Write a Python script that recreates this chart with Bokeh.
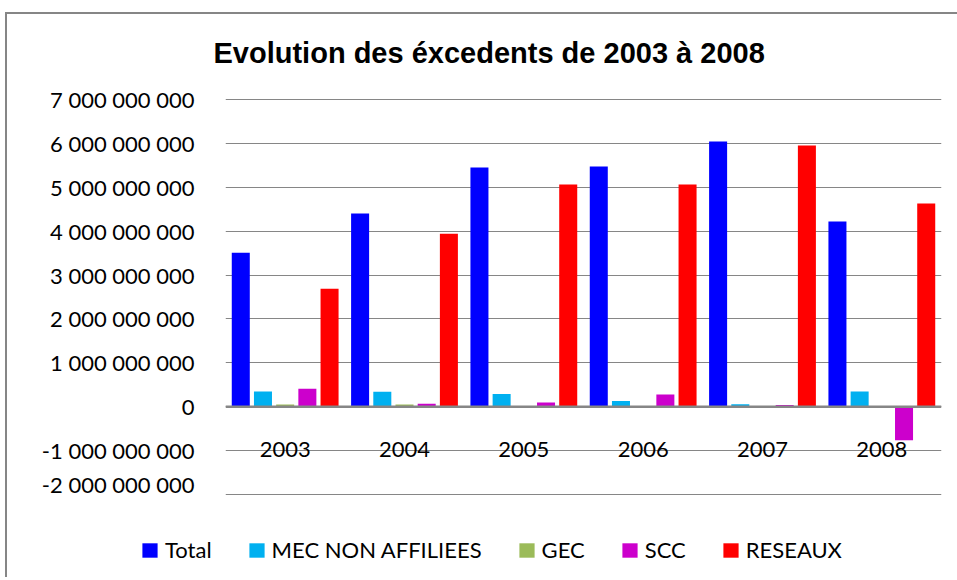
from bokeh.plotting import figure
from bokeh.layouts import column
from bokeh.models import (FactorRange, Range1d, FixedTicker, CustomJSTickFormatter,
                          Span, Legend, LegendItem, ColumnDataSource)
from bokeh.transform import dodge
from bokeh.core.properties import value
from bokeh.embed import file_html
from bokeh.resources import INLINE

years = ["2003", "2004", "2005", "2006", "2007", "2008"]
series_names = ["Total", "MEC NON AFFILIEES", "GEC", "SCC", "RESEAUX"]
total = [3.51e9, 4.40e9, 5.45e9, 5.47e9, 6.04e9, 4.22e9]
mec = [0.35e9, 0.34e9, 0.29e9, 0.13e9, 0.06e9, 0.35e9]
gec = [0.05e9, 0.05e9, 0.01e9, 0.0, 0.0, 0.01e9]
scc = [0.41e9, 0.07e9, 0.10e9, 0.28e9, 0.04e9, -0.76e9]
reseaux = [2.69e9, 3.94e9, 5.06e9, 5.06e9, 5.95e9, 4.63e9]
y_ticks = [-2e9, -1e9, 0, 1e9, 2e9, 3e9, 4e9, 5e9, 6e9, 7e9]

colors = ["#0000FF", "#00B0F0", "#9BBB59", "#CC00CC", "#FF0000"]
keys = ["total", "mec", "gec", "scc", "reseaux"]

src = ColumnDataSource(dict(year=years, total=total, mec=mec, gec=gec, scc=scc, reseaux=reseaux))

p = figure(x_range=FactorRange(*years, range_padding=0), y_range=Range1d(-2.02e9, 7.02e9),
           width=957, height=497, output_backend="svg", toolbar_location=None,
           min_border_left=225, min_border_right=16, min_border_top=98, min_border_bottom=2)
p.outline_line_color = None
p.border_fill_color = None
p.background_fill_color = None
p.frame_align = False

p.title.text = "Evolution des éxcedents de 2003 à 2008"
p.title.text_font = "Liberation Sans"
p.title.text_font_size = "29px"
p.title.text_font_style = "bold"
p.title.text_color = "#000000"
p.title.align = "left"
p.title.offset = -12
p.title.standoff = 60

step = 0.186
offsets = [-2 * step, -step, 0, step, 2 * step]
for k, c, off in zip(keys, colors, offsets):
    p.vbar(x=dodge("year", off, range=p.x_range), top=k, bottom=0, width=0.151,
           source=src, fill_color=c, line_color=None)

p.ygrid.grid_line_color = "#868686"
p.ygrid.grid_line_width = 1
p.xgrid.grid_line_color = None
p.yaxis.ticker = FixedTicker(ticks=y_ticks)
p.yaxis.formatter = CustomJSTickFormatter(code="""
return Math.round(tick).toString().replace(/\\B(?=(\\d{3})+(?!\\d))/g, " ");
""")
p.yaxis.axis_line_color = None
p.yaxis.major_tick_line_color = None
p.yaxis.minor_tick_line_color = None
p.yaxis.major_label_standoff = 25
p.yaxis.major_label_text_font = "Lato"
p.yaxis.major_label_text_font_size = "22px"
p.yaxis.major_label_text_color = "#000000"

p.xaxis.visible = False
p.add_layout(Span(location=0, dimension="width", line_color="#868686", line_width=2.5))
p.text(x="year", y=0, text="year", source=src, y_offset=43,
       text_font=value("Lato"), text_font_size="22px", text_color="#000000",
       text_align="center", text_baseline="middle")

# legend strip (swatches are zero-height bars, only used for the legend keys)
lg = figure(width=957, height=80, x_range=Range1d(0, 1), y_range=Range1d(0, 1),
            x_axis_type=None, y_axis_type=None, output_backend="svg", toolbar_location=None,
            min_border=0)
lg.outline_line_color = None
lg.border_fill_color = None
lg.background_fill_color = None
lg.grid.visible = False
lg.frame_align = False
items = []
for name, c in zip(series_names, colors):
    r = lg.vbar(x=[0.5], top=[0], bottom=[0], width=0.1, fill_color=c, line_color=None)
    items.append(LegendItem(label=name, renderers=[r]))
legend = Legend(items=items, orientation="horizontal", location=(140, 14),
                glyph_width=19, glyph_height=18, label_standoff=6, spacing=35,
                padding=0, margin=0, border_line_color=None, background_fill_alpha=0,
                label_text_font="Lato", label_text_font_size="22px", label_text_color="#000000")
lg.add_layout(legend, "center")

chart_frame = ("linear-gradient(#868686, #868686) 5px 12px / 2px 100% no-repeat, "
               "linear-gradient(#868686, #868686) 5px 12px / 100% 2px no-repeat, #ffffff")
layout = column(p, lg, spacing=0, styles={"background": chart_frame})

open("out.html", "w").write(file_html(layout, INLINE))
